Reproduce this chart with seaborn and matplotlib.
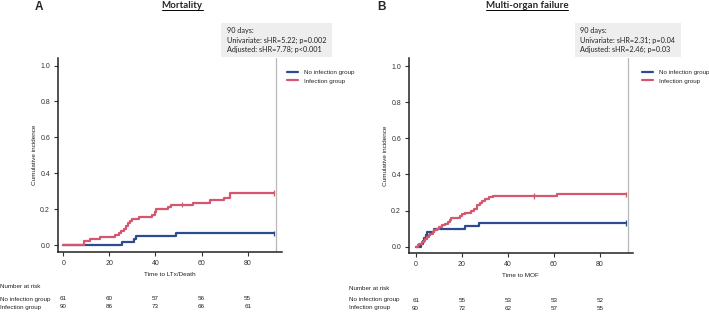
import numpy as np
import pandas as pd
import matplotlib
matplotlib.use("Agg")
import matplotlib.pyplot as plt
import seaborn as sns
from matplotlib.lines import Line2D
from matplotlib.patches import Rectangle
from matplotlib.transforms import blended_transform_factory

# ---------------- data ----------------
groups = ["No infection group", "Infection group"]
END_TIME = 91.5          # last follow-up (censoring) time
CENSOR_MID = 51.5        # visible censoring mark on infection curves
REF_DAY = 92.2           # grey 90-day reference line position

# Panel A - Mortality (cumulative incidence)
mort_noinf_t = [0, 25.6, 30.7, 31.7, 48.7]
mort_noinf_v = [0, 0.016, 0.033, 0.049, 0.066]
mort_inf_t = [0, 8.8, 11.6, 15.8, 22.6, 24.2, 25.1, 26.3, 27.1, 27.9, 28.9, 29.8,
              32.8, 38.5, 39.7, 40.3, 45.6, 46.9, 56.3, 63.5, 69.9, 72.2]
mort_inf_v = [0, 0.022, 0.033, 0.044, 0.055, 0.066, 0.077, 0.091, 0.105, 0.12, 0.135, 0.145,
              0.157, 0.17, 0.185, 0.2, 0.213, 0.224, 0.234, 0.252, 0.264, 0.29]

# Panel B - Multi-organ failure
mof_noinf_t = [0, 2.3, 3.0, 3.7, 4.3, 4.8, 7.8, 21.3, 27.3]
mof_noinf_v = [0, 0.016, 0.033, 0.049, 0.066, 0.082, 0.098, 0.115, 0.131]
mof_inf_t = [0, 0.9, 1.6, 2.6, 3.4, 4.1, 4.9, 5.6, 6.3, 7.4, 8.1, 9.3, 10.3, 11.5, 12.9,
             14.0, 14.7, 15.5, 19.3, 20.1, 21.6, 24.0, 25.5, 26.7, 27.9, 29.0, 30.2,
             32.0, 33.6, 61.2]
mof_inf_v = [0, 0.008, 0.017, 0.025, 0.033, 0.042, 0.052, 0.062, 0.071, 0.083, 0.092, 0.1,
             0.11, 0.118, 0.127, 0.138, 0.147, 0.158, 0.168, 0.18, 0.189, 0.2, 0.21, 0.228,
             0.242, 0.254, 0.265, 0.276, 0.281, 0.29]

risk_times = [0, 20, 40, 60, 80]
mort_risk_noinf = [61, 60, 57, 56, 55]
mort_risk_inf = [90, 86, 73, 66, 61]
mof_risk_noinf = [61, 55, 53, 53, 52]
mof_risk_inf = [90, 72, 62, 57, 55]

panel_letters = ["A", "B"]
panel_titles = ["Mortality", "Multi-organ failure"]
xlabels = ["Time to LTx/Death", "Time to MOF"]
ylabel = "Cumulative incidence"
annot_lines = [
    ["90 days:", "Univariate: sHR=5.22; p=0.002", "Adjusted: sHR=7.78; p<0.001"],
    ["90 days:", "Univariate: sHR=2.31; p=0.04", "Adjusted: sHR=2.46; p=0.03"],
]
xticks = [0, 20, 40, 60, 80]
yticks = [0.0, 0.2, 0.4, 0.6, 0.8, 1.0]

palette = {"No infection group": "#2d4b8e", "Infection group": "#d5566f"}

# ---------------- style ----------------
sns.set_theme(style="ticks")
plt.rcParams["font.family"] = ["Liberation Sans", "DejaVu Sans"]

W, H = 709, 312
fig = plt.figure(figsize=(W / 100, H / 100), dpi=100)


def fx(x):
    return x / W


def fy(y):
    return 1 - y / H


def curve_df(t, v, g):
    t2 = list(t) + [END_TIME]
    v2 = list(v) + [v[-1]]
    return pd.DataFrame({"t": t2, "ci": v2, "group": g})


panels = [
    dict(noinf=(mort_noinf_t, mort_noinf_v), inf=(mort_inf_t, mort_inf_v),
         risk=(mort_risk_noinf, mort_risk_inf),
         rect=(58, 57.7, 282, 252), xlim=(-2.3, 94.9), ylim=(-0.039, 1.044),
         letter_x=39, title_x=182, box=(221, 23, 332, 57), text_x=226.7,
         leg_x=287, risk_label_x=0, risk_y=(287, 299, 307)),
    dict(noinf=(mof_noinf_t, mof_noinf_v), inf=(mof_inf_t, mof_inf_v),
         risk=(mof_risk_noinf, mof_risk_inf),
         rect=(409, 58.3, 632.7, 253), xlim=(-2.9, 94.2), ylim=(-0.035, 1.043),
         letter_x=381, title_x=527, box=(575, 23, 681, 57), text_x=579.5,
         leg_x=642, risk_label_x=349, risk_y=(288, 300, 308)),
]

title_texts = []
for i, p in enumerate(panels):
    x0, y0, x1, y1 = p["rect"]
    ax = fig.add_axes([fx(x0), fy(y1), fx(x1) - fx(x0), (y1 - y0) / H])

    df = pd.concat([curve_df(*p["noinf"], groups[0]), curve_df(*p["inf"], groups[1])],
                   ignore_index=True)
    sns.lineplot(data=df, x="t", y="ci", hue="group", hue_order=groups, palette=palette,
                 drawstyle="steps-post", estimator=None, sort=False, ax=ax,
                 legend=False, linewidth=1.6)

    # censor marks
    inf_t, inf_v = p["inf"]
    cens = pd.DataFrame({
        "t": [END_TIME, CENSOR_MID, END_TIME],
        "ci": [p["noinf"][1][-1],
               inf_v[np.searchsorted(inf_t, CENSOR_MID) - 1],
               inf_v[-1]],
        "group": [groups[0], groups[1], groups[1]],
    })
    sns.scatterplot(data=cens, x="t", y="ci", hue="group", hue_order=groups,
                    palette=palette, marker="|", s=14, linewidth=0.9, ax=ax,
                    legend=False, zorder=5)

    ax.axvline(REF_DAY, color="#b8b8b8", lw=0.9, zorder=1)

    ax.set_xlim(*p["xlim"])
    ax.set_ylim(*p["ylim"])
    ax.set_xticks(xticks)
    ax.set_yticks(yticks)
    ax.set_yticklabels([f"{v:.1f}" for v in yticks])
    ax.set_xlabel(xlabels[i], fontsize=4.6, labelpad=3.5, color="#222222")
    ax.set_ylabel(ylabel, fontsize=4.6, labelpad=2.5, color="#222222")
    ax.tick_params(direction="out", length=3.2, width=0.8, labelsize=5, pad=2.5,
                   colors="#333333")
    sns.despine(ax=ax)
    for s in ["left", "bottom"]:
        ax.spines[s].set_linewidth(1.1)
        ax.spines[s].set_color("#222222")
    ax.set_facecolor("none")

    # panel letter and title
    fig.text(fx(p["letter_x"]), fy(7), panel_letters[i], fontsize=8.5, fontweight="bold",
             ha="center", va="center")
    t = fig.text(fx(p["title_x"]), fy(5.5), panel_titles[i], fontsize=7,
                 fontweight="bold", ha="center", va="center", family=["Lato", "DejaVu Sans"])
    title_texts.append(t)

    # annotation box
    bx0, by0, bx1, by1 = p["box"]
    fig.patches.append(Rectangle((fx(bx0), fy(by1)), fx(bx1) - fx(bx0), (by1 - by0) / H,
                                 transform=fig.transFigure, facecolor="#eeeeee",
                                 edgecolor="none", zorder=0))
    for j, (line, yy) in enumerate(zip(annot_lines[i], [30, 40, 49.5])):
        fig.text(fx(p["text_x"]), fy(yy), line, fontsize=5.2, ha="left", va="center",
                 family=["Lato", "DejaVu Sans"], color="#222222")

    # legend
    handles = [Line2D([], [], color=palette[g], lw=1.6) for g in groups]
    ax.legend(handles, groups, loc="upper left",
              bbox_to_anchor=(fx(p["leg_x"]), fy(70)), bbox_transform=fig.transFigure,
              frameon=False, fontsize=4.5, handlelength=1.75, handletextpad=1.0,
              borderpad=0, borderaxespad=0, labelspacing=0.45)

    # number at risk table
    ry0, ry1, ry2 = p["risk_y"]
    fig.text(fx(p["risk_label_x"]), fy(ry0), "Number at risk", fontsize=4.5,
             ha="left", va="center", color="#222222")
    fig.text(fx(p["risk_label_x"]), fy(ry1), groups[0], fontsize=4.5,
             ha="left", va="center", color="#222222")
    fig.text(fx(p["risk_label_x"]), fy(ry2), groups[1], fontsize=4.5,
             ha="left", va="center", color="#222222")
    trans = blended_transform_factory(ax.transData, fig.transFigure)
    for tt, n0, n1 in zip(risk_times, p["risk"][0], p["risk"][1]):
        ax.text(tt, fy(ry1), str(n0), transform=trans, fontsize=4.5, ha="center",
                va="center", color="#222222", clip_on=False)
        ax.text(tt, fy(ry2), str(n1), transform=trans, fontsize=4.5, ha="center",
                va="center", color="#222222", clip_on=False)

# underline titles
fig.canvas.draw()
for t in title_texts:
    bb = t.get_window_extent()
    yline = bb.y0 - 0.2
    fig.add_artist(Line2D([bb.x0 / W, bb.x1 / W], [yline / H, yline / H],
                          transform=fig.transFigure, color="black", lw=0.7))

fig.savefig("out.png", dpi=100)
